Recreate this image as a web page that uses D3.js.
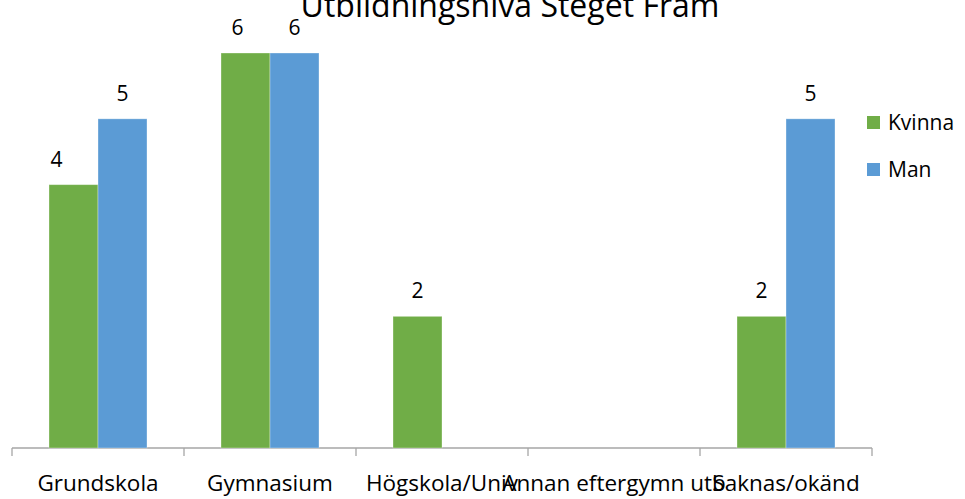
<!DOCTYPE html>
<html><head><meta charset="utf-8">
<script src="https://cdn.jsdelivr.net/npm/d3@7"></script>
<style>body{margin:0;background:#fff}svg{display:block}text{font-family:"Open Sans",Lato,sans-serif;fill:#000}</style>
</head><body><svg id="c" width="965" height="499"></svg>
<script>
const categories = ["Grundskola","Gymnasium","Högskola/Univ","Annan eftergymn utb","Saknas/okänd"];
const seriesNames = ["Kvinna","Man"];
const kvinna = [4, 6, 2, null, 2];
const man = [5, 6, null, null, 5];
const kvinnaLabelNudge = [-17, -8, 0, 0, 0];
const colors = ["#70AD47","#5B9BD5"];
const title = "Utbildningsnivå Steget Fram";

(function(){
const svg = d3.select("#c");
const pLeft = 12, pRight = 872, pBase = 448, pTop = 53;
const x = d3.scaleBand().domain(categories).range([pLeft, pRight]).paddingInner(0).paddingOuter(0);
const y = d3.scaleLinear().domain([0, 6]).range([pBase, pTop]);
const bw = 49;
const xs = d3.scaleBand().domain(seriesNames).range([0, bw*2]);

svg.append("line").attr("x1", pLeft).attr("x2", pRight).attr("y1", pBase).attr("y2", pBase).attr("stroke","#a6a6a6").attr("stroke-width",1.3);
const tickPos = categories.map(c => x(c)).concat([pRight]);
svg.selectAll("line.tk").data(tickPos).enter().append("line").attr("class","tk")
  .attr("x1", d=>d).attr("x2", d=>d).attr("y1", pBase).attr("y2", pBase+8).attr("stroke","#a6a6a6").attr("stroke-width",1.3);
svg.selectAll("text.cat").data(categories).enter().append("text").attr("class","cat")
  .attr("x", d => x(d) + x.bandwidth()/2).attr("y", 491).attr("text-anchor","middle")
  .style("font-size","22.5px").text(d=>d);

const series = [kvinna, man];
series.forEach((vals, si) => {
  const g = svg.append("g");
  const data = categories.map((c,i)=>({c, v: vals[i], i})).filter(d => d.v != null && d.v > 0);
  g.selectAll("rect").data(data).enter().append("rect")
    .attr("x", d => x(d.c) + (x.bandwidth()-bw*2)/2 + xs(seriesNames[si]))
    .attr("y", d => y(d.v)).attr("width", bw).attr("height", d => y(0)-y(d.v))
    .attr("fill", colors[si]).attr("stroke","#fff").attr("stroke-opacity",0.4).attr("stroke-width",0.8);
  g.selectAll("text").data(data).enter().append("text")
    .attr("x", d => x(d.c) + (x.bandwidth()-bw*2)/2 + xs(seriesNames[si]) + bw/2 + (si===0 ? kvinnaLabelNudge[d.i] : 0))
    .attr("y", d => y(d.v) - 18).attr("text-anchor","middle").style("font-size","21px").text(d => d.v);
});

svg.append("text").attr("x", 510).attr("y", 17).attr("text-anchor","middle").style("font-size","32px").text(title);

seriesNames.forEach((n, i) => {
  const gy = 116 + i*47;
  svg.append("rect").attr("x", 867).attr("y", gy).attr("width", 13).attr("height", 13).attr("fill", colors[i]);
  svg.append("text").attr("x", 888).attr("y", gy + 14).style("font-size","21px").text(n);
});
})();
</script></body></html>
